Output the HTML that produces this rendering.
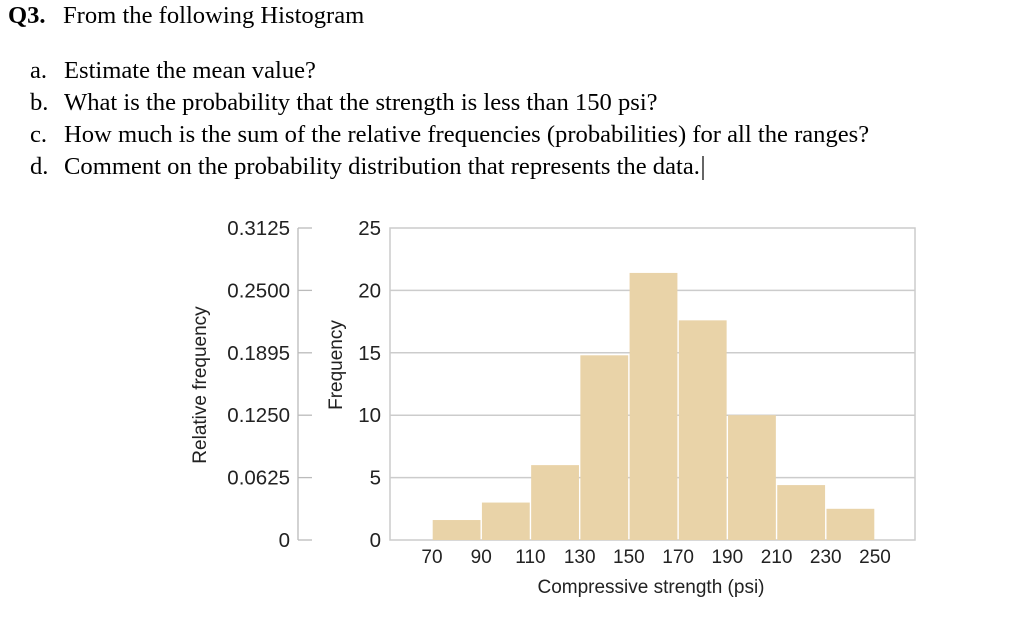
<!DOCTYPE html>
<html><head><meta charset="utf-8"><style>
body{margin:0;background:#fff;width:1021px;height:640px;overflow:hidden}
svg{display:block}
.q{font-family:"Liberation Serif",serif;font-size:24.6px;fill:#000}
.t{font-family:"Liberation Sans",sans-serif;font-size:19px;fill:#222}
.r{font-family:"Liberation Sans",sans-serif;font-size:20.5px;fill:#222}
</style></head><body>
<svg id="c" width="1021" height="640">
<text class="q" x="8" y="23"><tspan font-weight="bold">Q3.</tspan><tspan x="63">From the following Histogram</tspan></text>
<text class="q" x="30" y="78">a.<tspan x="64">Estimate the mean value?</tspan></text>
<text class="q" x="30" y="110">b.<tspan x="64">What is the probability that the strength is less than 150 psi?</tspan></text>
<text class="q" x="30" y="142">c.<tspan x="64">How much is the sum of the relative frequencies (probabilities) for all the ranges?</tspan></text>
<text class="q" x="30" y="174">d.<tspan x="64">Comment on the probability distribution that represents the data.</tspan></text>
<line x1="703" y1="156" x2="703" y2="180" stroke="#000" stroke-width="1.2"/>
<rect x="390" y="228" width="525" height="312" fill="#fff" stroke="#ccc" stroke-width="1.5"/>
<g id="grid"></g><g id="bars"></g><g id="axes"></g>
<text class="t" transform="translate(206,385) rotate(-90)" text-anchor="middle">Relative frequency</text>
<text class="t" transform="translate(342,365) rotate(-90)" text-anchor="middle">Frequency</text>
<text class="t" x="651" y="593" text-anchor="middle">Compressive strength (psi)</text>
</svg>
<script>
const edges=[70,90,110,130,150,170,190,210,230,250];
const counts=[1.6,3,6,14.8,21.4,17.6,10,4.4,2.5];
const freqTicks=[0,5,10,15,20,25];
const relTicks=["0","0.0625","0.1250","0.1895","0.2500","0.3125"];
const NS="http://www.w3.org/2000/svg";
const y=v=>540-v*12.48;
const x=v=>432+(v-70)*(443/180);
function mk(t,a,p,txt){const e=document.createElementNS(NS,t);for(const k in a)e.setAttribute(k,a[k]);if(txt!==undefined)e.textContent=txt;document.getElementById(p).appendChild(e);return e;}
freqTicks.forEach((v,i)=>{
 if(v>0&&v<25){const g=mk('line',{x1:390,x2:915,y1:y(v),y2:y(v),stroke:'#ccc','stroke-width':1.5},'grid');
 
 }
 const t=mk('text',{x:381,y:y(v)+7,'text-anchor':'end',class:'r'},'axes',v);
 
 
 const r=mk('text',{x:290,y:y(v)+7,'text-anchor':'end',class:'r'},'axes',relTicks[i]);
 
 
 const tk=mk('line',{x1:298,x2:312,y1:y(v),y2:y(v),stroke:'#bbb','stroke-width':1.3},'axes');
 
 
});
const ax=mk('line',{x1:298,x2:298,y1:y(25),y2:y(0),stroke:'#bbb','stroke-width':1.3},'axes');


counts.forEach((c,i)=>{
 const b=mk('rect',{x:x(edges[i])+0.7,y:y(c),width:x(edges[i+1])-x(edges[i])-1.4,height:y(0)-y(c),fill:'#e9d3a8'},'bars');
 
 
});
edges.forEach(v=>{
 const t=mk('text',{x:x(v),y:563,'text-anchor':'middle',class:'t'},'axes',v);
 
 
});
</script>
</body></html>
